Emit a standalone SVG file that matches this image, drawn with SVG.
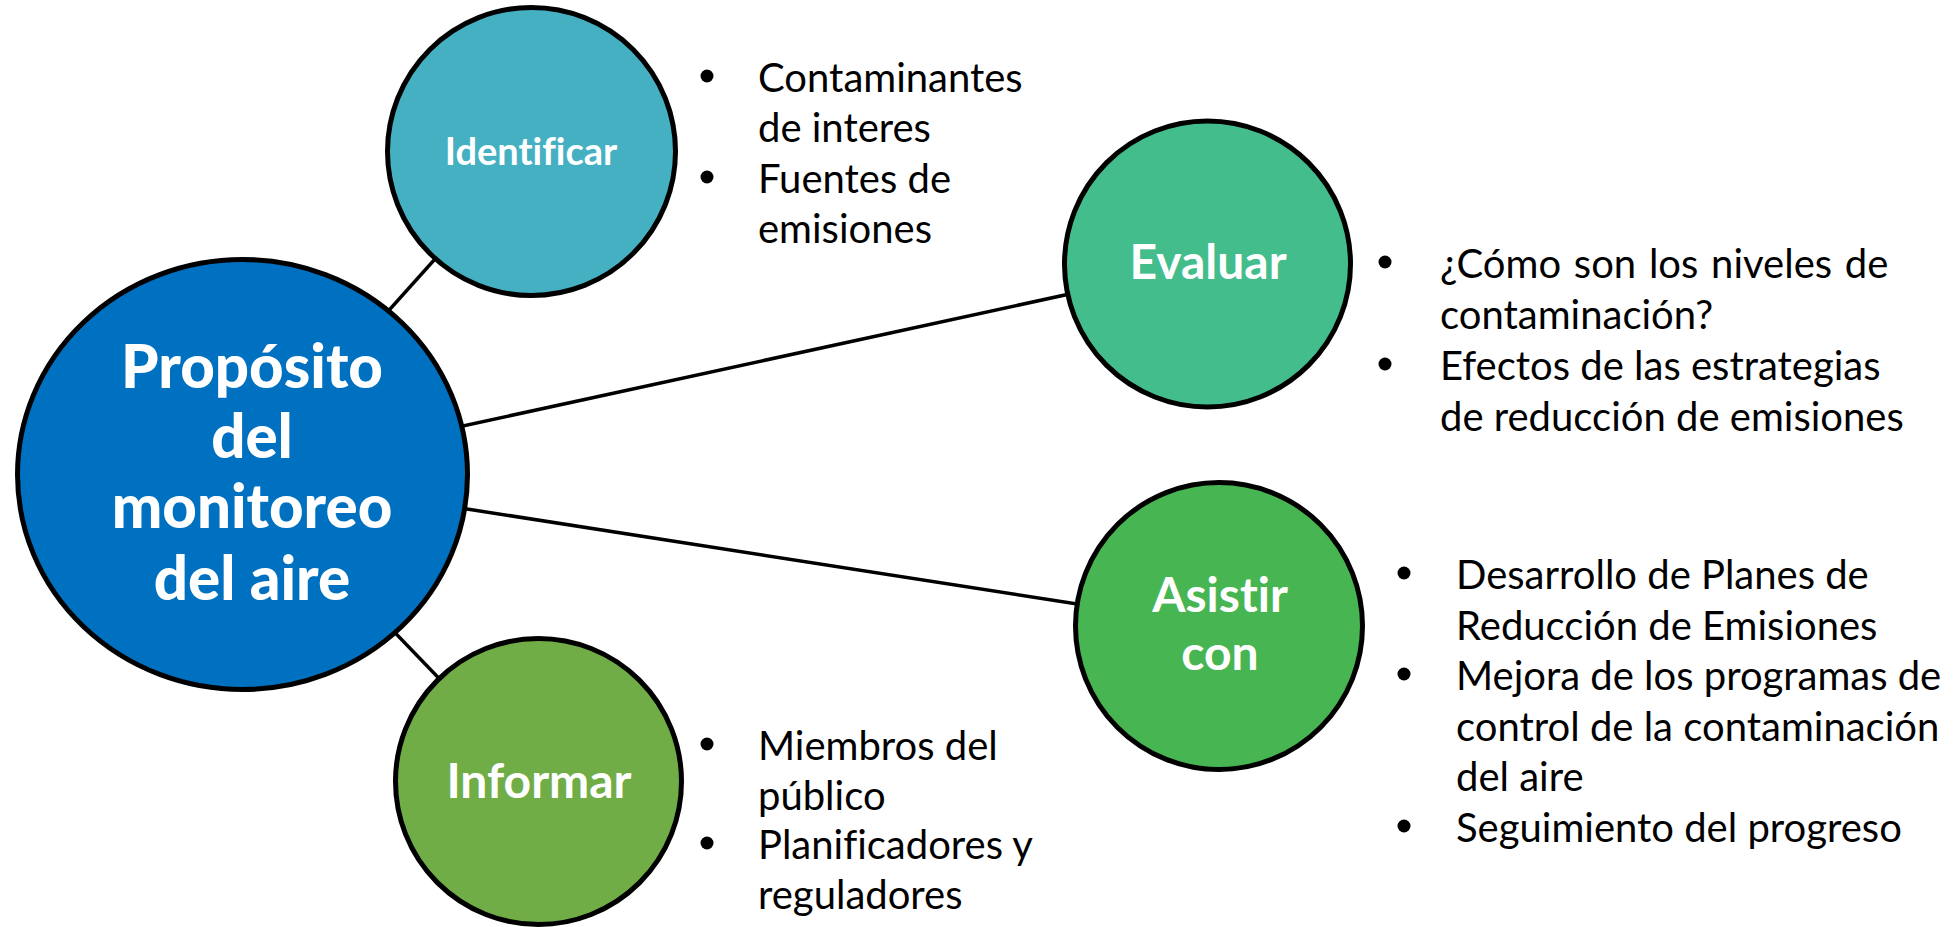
<svg xmlns="http://www.w3.org/2000/svg" width="1954" height="927" viewBox="0 0 1954 927">
<style>
text{font-variant-ligatures:none;font-feature-settings:"liga" 0}
.node{stroke:#000;stroke-width:5}
.conn{stroke:#000;stroke-width:3.5;fill:none}
.lbl{font-family:Lato,"Open Sans",sans-serif;font-weight:bold;fill:#fff;text-anchor:middle}
.main{font-family:Lato,"Open Sans",sans-serif;font-weight:900;fill:#fff;text-anchor:middle;font-size:60px}
.bt{font-family:Lato,"Open Sans",sans-serif;font-size:40px;fill:#000}
.dot{fill:#000}
</style>
<rect width="1954" height="927" fill="#fff"/>
<g id="connectors">
<line class="conn" x1="242" y1="474" x2="531.5" y2="151.5"/>
<line class="conn" x1="242" y1="474" x2="1207.5" y2="264"/>
<line class="conn" x1="242" y1="474" x2="1219" y2="626"/>
<line class="conn" x1="242" y1="474" x2="538.5" y2="781.5"/>
</g>
<g id="node-main">
<ellipse class="node" cx="242.5" cy="474.5" rx="225" ry="215" fill="#0070C0"/>
<text class="main" x="252" y="388">Propósito</text>
<text class="main" x="252" y="458">del</text>
<text class="main" x="252" y="528">monitoreo</text>
<text class="main" x="252" y="600">del aire</text>
</g>
<g id="node-identificar">
<circle class="node" cx="531.5" cy="151.5" r="144" fill="#46B0C3"/>
<text class="lbl" x="531" y="165" font-size="38">Identificar</text>
</g>
<g id="node-evaluar">
<circle class="node" cx="1207.5" cy="264" r="143" fill="#44BD8D"/>
<text class="lbl" x="1208" y="279" font-size="48">Evaluar</text>
</g>
<g id="node-asistir">
<circle class="node" cx="1219" cy="626" r="143.5" fill="#47B552"/>
<text class="lbl" x="1220" y="612" font-size="48">Asistir</text>
<text class="lbl" x="1220" y="670" font-size="48">con</text>
</g>
<g id="node-informar">
<circle class="node" cx="538.5" cy="781.5" r="143" fill="#70AD47"/>
<text class="lbl" x="539" y="798" font-size="48">Informar</text>
</g>
<g id="list-identificar">
<circle class="dot" cx="707" cy="76" r="6.5"/>
<circle class="dot" cx="707" cy="177" r="6.5"/>
<text class="bt" x="758" y="92">Contaminantes</text>
<text class="bt" x="758" y="142">de interes</text>
<text class="bt" x="758" y="193">Fuentes de</text>
<text class="bt" x="758" y="243">emisiones</text>
</g>
<g id="list-evaluar">
<circle class="dot" cx="1385" cy="262" r="6.5"/>
<circle class="dot" cx="1385" cy="364" r="6.5"/>
<text class="bt" x="1440" y="278" word-spacing="2.5">¿Cómo son los niveles de</text>
<text class="bt" x="1440" y="329">contaminación?</text>
<text class="bt" x="1440" y="380">Efectos de las estrategias</text>
<text class="bt" x="1440" y="431">de reducción de emisiones</text>
</g>
<g id="list-asistir">
<circle class="dot" cx="1404" cy="573" r="6.5"/>
<circle class="dot" cx="1404" cy="674" r="6.5"/>
<circle class="dot" cx="1404" cy="826" r="6.5"/>
<text class="bt" x="1456" y="589">Desarrollo de Planes de</text>
<text class="bt" x="1456" y="640">Reducción de Emisiones</text>
<text class="bt" x="1456" y="690">Mejora de los programas de</text>
<text class="bt" x="1456" y="741">control de la contaminación</text>
<text class="bt" x="1456" y="791">del aire</text>
<text class="bt" x="1456" y="842">Seguimiento del progreso</text>
</g>
<g id="list-informar">
<circle class="dot" cx="707" cy="744" r="6.5"/>
<circle class="dot" cx="707" cy="843" r="6.5"/>
<text class="bt" x="758" y="760">Miembros del</text>
<text class="bt" x="758" y="810">público</text>
<text class="bt" x="758" y="859">Planificadores y</text>
<text class="bt" x="758" y="909">reguladores</text>
</g>
</svg>
